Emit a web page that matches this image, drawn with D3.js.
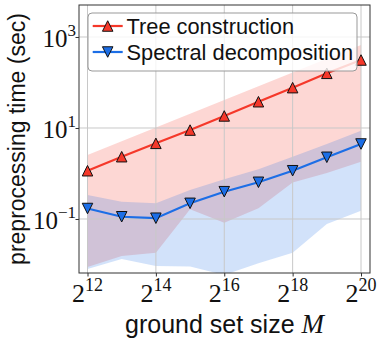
<!DOCTYPE html>
<html>
<head>
<meta charset="utf-8">
<script src="https://cdn.jsdelivr.net/npm/d3@7"></script>
<style>
body{margin:0;background:#fff;}
</style>
</head>
<body>
<div id="chart"></div>
<script>
// ground set size M = 2^exp
var exps = [12, 13, 14, 15, 16, 17, 18, 19, 20];

// tree construction (sec): mean and band
var treeTime = [1.15, 2.34, 4.6, 9.0, 18.4, 37.8, 77, 159, 312];
var treeHi   = [2.55, 5.1, 10.3, 20.6, 41, 83, 166, 333, 667];
var treeLo   = [0.0088, 0.0154, 0.0182, 0.163, 0.083, 0.172, 0.63, 1.03, 1.82];

// spectral decomposition (sec): mean and band
var specTime = [0.170, 0.112, 0.104, 0.221, 0.398, 0.641, 1.15, 2.27, 4.45];
var specHi   = [0.337, 0.240, 0.221, 0.434, 0.746, 1.24, 2.34, 4.45, 8.73];
var specLo   = [0.0080, 0.0132, 0.0093, 0.0090, 0.0059, 0.0106, 0.0182, 0.0776, 0.152];

var xTickExps = [12, 14, 16, 18, 20];
var yTickVals = [0.1, 10, 1000];
var yTickSup = ["\u22121", "1", "3"];

var width = 381, height = 344,
    margin = {left: 79, top: 5, right: 11, bottom: 71},
    iw = width - margin.left - margin.right,
    ih = height - margin.top - margin.bottom;

var red = "#f5382a", blue = "#1c6ee6";
var serif = "'Liberation Serif', 'DejaVu Serif', serif";
var sans = "'Liberation Sans', Arial, sans-serif";

var svg = d3.select("#chart").append("svg")
    .attr("width", width)
    .attr("height", height);

var g = svg.append("g")
    .attr("transform", "translate(" + margin.left + "," + margin.top + ")");

var x = d3.scaleLog().base(2)
    .domain([Math.pow(2, 12), Math.pow(2, 20)])
    .range([8.5, iw - 9]);

var y = d3.scaleLog()
    .domain([Math.pow(10, -2.187), Math.pow(10, 3.703)])
    .range([ih, 0]);

g.append("clipPath").attr("id", "clip")
  .append("rect").attr("width", iw).attr("height", ih);

var plot = g.append("g").attr("clip-path", "url(#clip)");

function rows(mean, lo, hi){
    return exps.map(function(e, i){
        return {m: Math.pow(2, e), v: mean[i], lo: lo[i], hi: hi[i]};
    });
}
var series = [
    {name: "Tree construction", color: red, up: true, data: rows(treeTime, treeLo, treeHi)},
    {name: "Spectral decomposition", color: blue, up: false, data: rows(specTime, specLo, specHi)}
];

var area = d3.area()
    .x(function(d){ return x(d.m); })
    .y0(function(d){ return y(d.lo); })
    .y1(function(d){ return y(d.hi); });

// bands
series.forEach(function(s){
    plot.append("path")
        .attr("d", area(s.data))
        .attr("fill", s.color)
        .attr("fill-opacity", 0.2);
});

// grid
g.selectAll(".vgrid").data(xTickExps).enter()
    .append("line")
    .attr("x1", function(d){ return x(Math.pow(2, d)); })
    .attr("x2", function(d){ return x(Math.pow(2, d)); })
    .attr("y1", 0).attr("y2", ih)
    .attr("stroke", "#c8c8c8").attr("stroke-width", 1);
g.selectAll(".hgrid").data(yTickVals).enter()
    .append("line")
    .attr("x1", 0).attr("x2", iw)
    .attr("y1", function(d){ return y(d); })
    .attr("y2", function(d){ return y(d); })
    .attr("stroke", "#c8c8c8").attr("stroke-width", 1);

// triangle marker path
function tri(up, s){
    var h = s / 2;
    return up ? "M0," + (-h) + "L" + h + "," + h + "L" + (-h) + "," + h + "Z"
              : "M0," + h + "L" + h + "," + (-h) + "L" + (-h) + "," + (-h) + "Z";
}

var line = d3.line()
    .x(function(d){ return x(d.m); })
    .y(function(d){ return y(d.v); });

series.forEach(function(s){
    g.append("path")
        .attr("d", line(s.data))
        .attr("fill", "none")
        .attr("stroke", s.color)
        .attr("stroke-width", 2.2);
    g.selectAll(null).data(s.data).enter()
        .append("path")
        .attr("d", tri(s.up, 10.5))
        .attr("transform", function(d){ return "translate(" + x(d.m) + "," + y(d.v) + ")"; })
        .attr("fill", s.color)
        .attr("stroke", "#111")
        .attr("stroke-width", 1);
});

// frame
g.append("rect")
    .attr("width", iw).attr("height", ih)
    .attr("fill", "none")
    .attr("stroke", "#333").attr("stroke-width", 1);

// axes (tick marks only, labels drawn with superscripts)
g.append("g")
    .attr("transform", "translate(0," + ih + ")")
    .call(d3.axisBottom(x).tickValues(xTickExps.map(function(e){ return Math.pow(2, e); }))
        .tickSize(3.5).tickFormat(""))
    .call(function(a){ a.select(".domain").remove(); a.selectAll("line").attr("stroke", "#333"); });

g.append("g")
    .call(d3.axisLeft(y).tickValues(yTickVals).tickSize(3.5).tickFormat(""))
    .call(function(a){ a.select(".domain").remove(); a.selectAll("line").attr("stroke", "#333"); });

// x tick labels
var xl = g.selectAll(".xlab").data(xTickExps).enter()
    .append("text")
    .attr("x", function(d){ return x(Math.pow(2, d)); })
    .attr("y", ih + 29)
    .attr("text-anchor", "middle")
    .attr("font-family", serif)
    .attr("font-size", "26px")
    .attr("fill", "#111");
xl.append("tspan").text("2");
xl.append("tspan").attr("dy", -11).attr("font-size", "18px").text(function(d){ return d; });

// y tick labels
var yl = g.selectAll(".ylab").data(yTickVals).enter()
    .append("text")
    .attr("x", -3)
    .attr("y", function(d){ return y(d) + 10; })
    .attr("text-anchor", "end")
    .attr("font-family", serif)
    .attr("font-size", "25px")
    .attr("fill", "#111");
yl.append("tspan").text("10");
yl.append("tspan").attr("dy", -11).attr("font-size", "17px").text(function(d, i){ return yTickSup[i]; });

// axis titles
var xt = g.append("text")
    .attr("x", iw / 2)
    .attr("y", ih + 60)
    .attr("text-anchor", "middle")
    .attr("font-family", sans)
    .attr("font-size", "25px")
    .attr("fill", "#111");
xt.append("tspan").text("ground set size ");
xt.append("tspan").attr("font-family", serif).attr("font-style", "italic").attr("font-size", "27px").text("M");

g.append("text")
    .attr("transform", "translate(" + (25 - margin.left) + "," + (ih / 2) + ") rotate(-90)")
    .attr("text-anchor", "middle")
    .attr("font-family", sans)
    .attr("font-size", "23px")
    .attr("fill", "#111")
    .text("preprocessing time (sec)");

// legend
var leg = g.append("g").attr("transform", "translate(9,8)");
leg.append("rect")
    .attr("width", 269).attr("height", 58).attr("rx", 4)
    .attr("fill", "#fff").attr("fill-opacity", 0.8)
    .attr("stroke", "#999").attr("stroke-width", 1);
var items = leg.selectAll(".item").data(series).enter()
    .append("g")
    .attr("transform", function(d, i){ return "translate(0," + (13 + i * 26) + ")"; });
items.append("line")
    .attr("x1", 4.7).attr("x2", 34.7)
    .attr("stroke", function(d){ return d.color; })
    .attr("stroke-width", 2.2);
items.append("path")
    .attr("d", function(d){ return tri(d.up, 10.5); })
    .attr("transform", "translate(19.7,0)")
    .attr("fill", function(d){ return d.color; })
    .attr("stroke", "#111").attr("stroke-width", 1);
items.append("text")
    .attr("x", 38.5).attr("y", 7.5)
    .attr("font-family", sans)
    .attr("font-size", "21.8px")
    .attr("fill", "#111")
    .text(function(d){ return d.name; });
</script>
</body>
</html>
